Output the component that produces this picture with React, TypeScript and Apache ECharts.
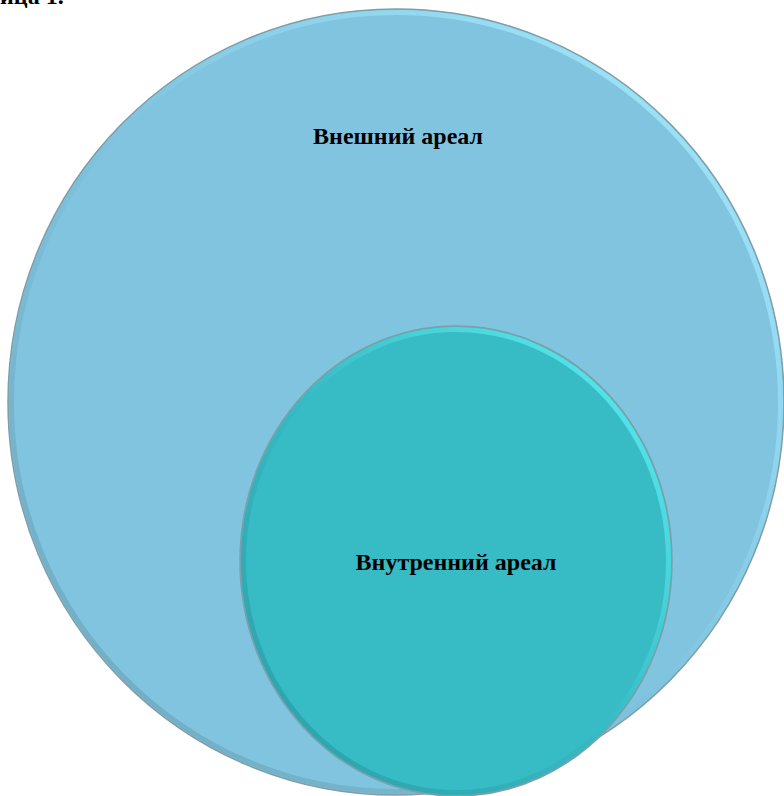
import React, { useEffect, useRef } from "react";
import * as echarts from "echarts";

const areaNames = ["Внешний ареал", "Внутренний ареал"];
const areaColors = ["#80C4DF", "#37BBC4"];
const rimLight = ["#A6ECFF", "#5FF0F5"];
const rimDark = ["#6EA6BC", "#2C9CA6"];
const captionText = "ица 1.";

export default function App() {
  const ref = useRef<HTMLDivElement>(null);
  useEffect(() => {
    if (!ref.current) return;
    const chart = echarts.init(ref.current, null, { renderer: "svg" });
    const shapes = [
      { cx: 396, cy: 402, rx: 388, ry: 393, lx: 398, ly: 136 },
      { cx: 456, cy: 561, rx: 216, ry: 235, lx: 456, ly: 562 },
    ];
    const elements: any[] = [];
    shapes.forEach((s, i) => {
      elements.push({
        type: "ellipse",
        shape: { cx: s.cx, cy: s.cy, rx: s.rx, ry: s.ry },
        style: { fill: areaColors[i], stroke: "#7F9EA8", lineWidth: 1.5 },
        z: i * 10,
      });
      elements.push({
        type: "ellipse",
        shape: { cx: s.cx, cy: s.cy, rx: s.rx - 3.5, ry: s.ry - 3.5 },
        style: {
          fill: "none",
          stroke: new echarts.graphic.LinearGradient(1, 0, 0, 1, [
            { offset: 0, color: rimLight[i] },
            { offset: 0.5, color: areaColors[i] },
            { offset: 1, color: rimDark[i] },
          ]),
          lineWidth: 5,
        },
        z: i * 10 + 1,
      });
      elements.push({
        type: "text",
        x: s.lx,
        y: s.ly,
        style: {
          text: areaNames[i],
          fill: "#000",
          font: 'bold 24px "Liberation Serif", "Times New Roman", serif',
          align: "center",
          verticalAlign: "middle",
        },
        z: i * 10 + 5,
      });
    });
    elements.push({
      type: "text",
      x: 0,
      y: 8,
      style: {
        text: captionText,
        fill: "#000",
        font: 'bold 24px "Liberation Serif", "Times New Roman", serif',
        align: "left",
        verticalAlign: "bottom",
      },
      z: 50,
    });
    chart.setOption({
      animation: false,
      backgroundColor: "#fff",
      graphic: { elements },
    });
    return () => chart.dispose();
  }, []);
  return (
    <div
      ref={ref}
      style={{ position: "absolute", left: 0, top: 0, width: 784, height: 796 }}
    />
  );
}
